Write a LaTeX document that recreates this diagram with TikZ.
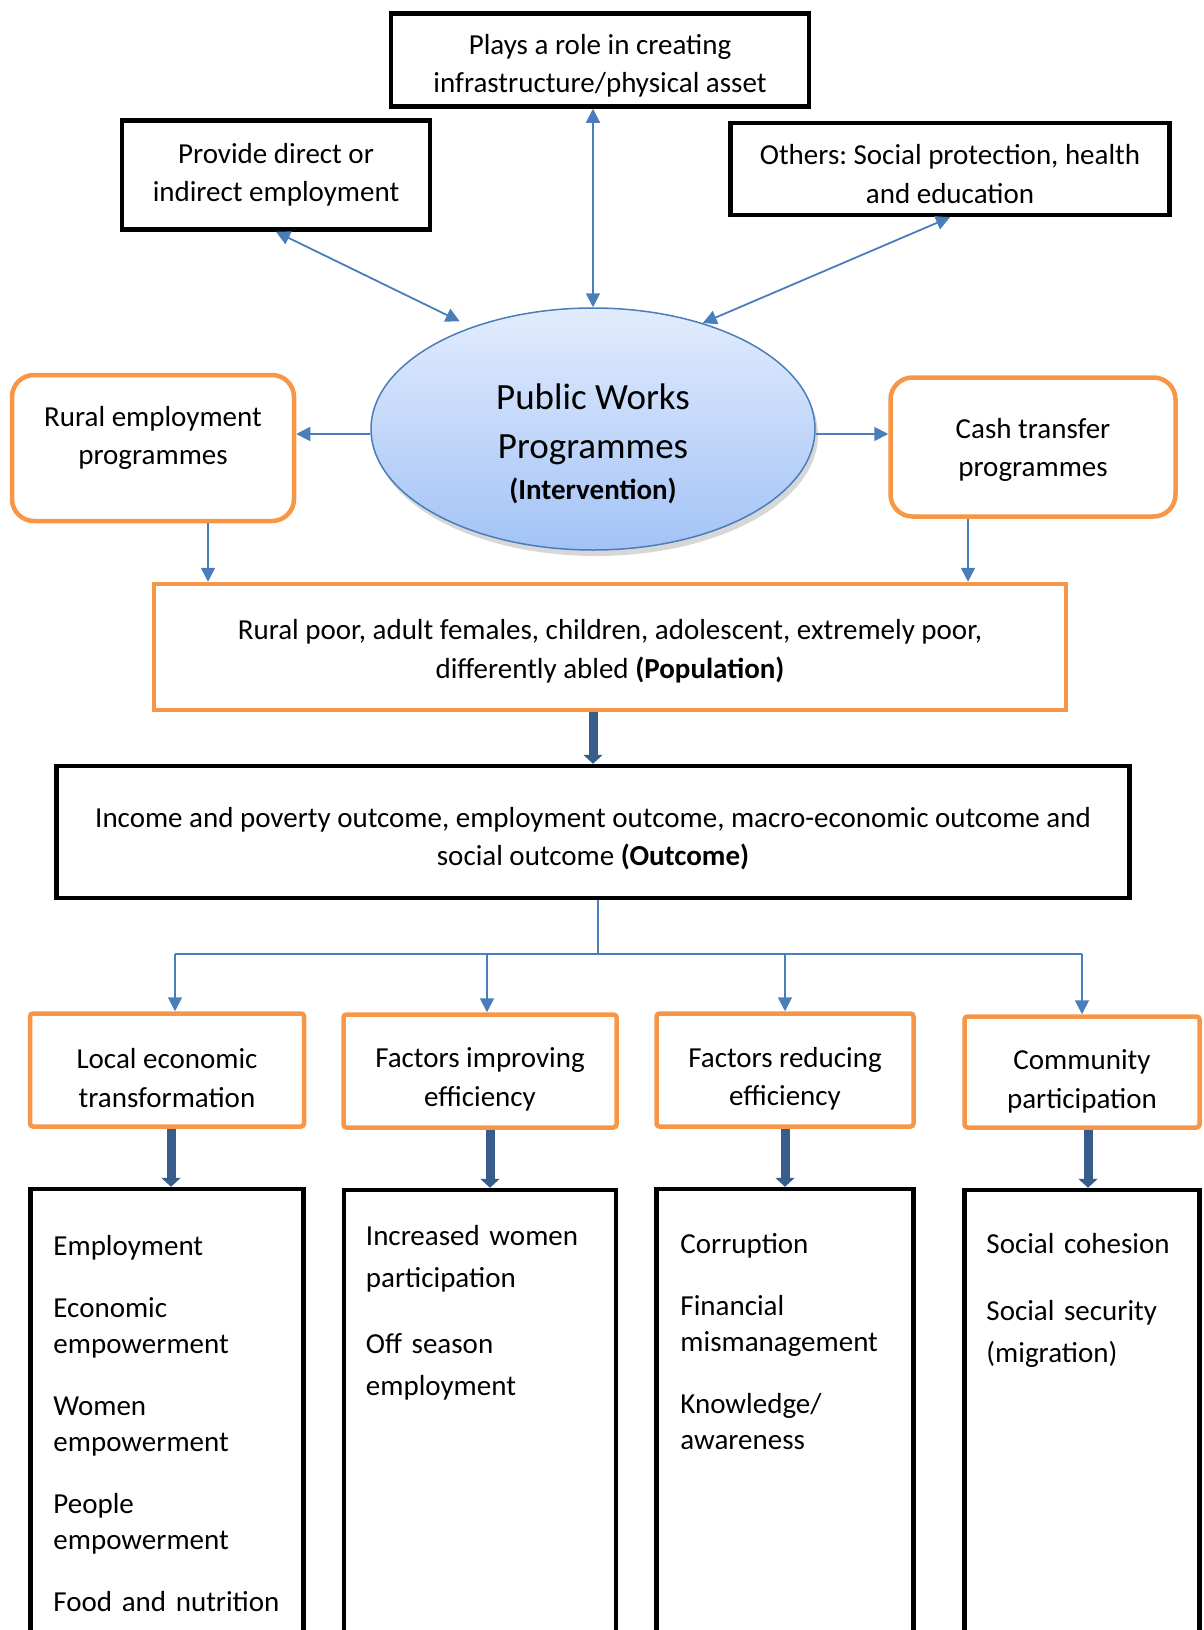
\documentclass[tikz,border=0pt]{standalone}
\usepackage{fontspec}
\setmainfont{Carlito}
\usetikzlibrary{arrows.meta,positioning,shapes.geometric,shadows}

\definecolor{boxorange}{HTML}{F79646}
\definecolor{linkblue}{HTML}{4A7EBB}
\definecolor{flowblue}{HTML}{385D8A}

% pad the first / last line of a box text
\newcommand{\padtop}[1]{\rule{0pt}{#1}}
\newcommand{\padbot}[1]{\rule[-#1]{0pt}{#1}}

\tikzset{
  blackbox/.style={draw=black,line width=4.5pt,align=center,inner sep=0pt},
  orangebox/.style={draw=boxorange,line width=4.5pt,align=center,inner sep=0pt},
  link/.style={draw=linkblue,line width=1.8pt},
  flow/.style={draw=flowblue,line width=9pt,-{Triangle[length=9pt,width=19pt]}},
  listtxt/.style={text width=240pt,align=left,inner sep=0pt,anchor=base west,
    font=\fontsize{29}{36}\selectfont},
}

\begin{document}
\frenchspacing
\begin{tikzpicture}[x=1pt,y=-1pt,>={Triangle[length=14pt,width=14pt]},
    font=\fontsize{29}{38.5}\selectfont]
  \useasboundingbox (0,0) rectangle (1203,1630);
  \clip (0,0) rectangle (1203,1630);

  % top row
  \node[blackbox,minimum width=418pt,minimum height=93pt] (role) at (600,60)
    {\padtop{32pt}Plays a role in creating\\infrastructure/physical asset};
  \node[blackbox,minimum width=308pt,minimum height=109pt] (direct) at (276,175)
    {Provide direct or\\indirect employment};
  \node[blackbox,minimum width=439pt,minimum height=92pt] (others) at (950,169)
    {\padtop{30pt}Others:\ Social protection, health\\and education};

  % intervention
  \node[ellipse,draw=linkblue,line width=1.5pt,minimum width=444pt,minimum height=242pt,
    top color={rgb,255:red,226;green,236;blue,253},bottom color={rgb,255:red,163;green,195;blue,246},
    drop shadow={shadow xshift=3pt,shadow yshift=-6pt,fill=black!35,opacity=.45}] (pwp) at (593,429) {};
  \node[align=center,font=\fontsize{37}{49}\selectfont] (pwptxt) at (593,444)
    {Public Works\\Programmes\\[-8pt]\fontsize{29}{35}\selectfont\bfseries (Intervention)};

  \node[orangebox,rounded corners=22pt,minimum width=282pt,minimum height=146pt] (rural) at (153,448)
    {Rural employment\\programmes\padbot{25pt}};
  \node[orangebox,rounded corners=22pt,minimum width=285pt,minimum height=139pt] (cash) at (1033,447)
    {\padtop{26pt}Cash transfer\\programmes};

  % population and outcome
  \node[orangebox,minimum width=912pt,minimum height=126pt] (pop) at (610,647)
    {\padtop{29pt}Rural poor, adult females, children, adolescent, extremely poor,\\differently abled \textbf{(Population)}};
  \node[blackbox,minimum width=1073pt,minimum height=132pt] (out) at (593,832)
    {\padtop{33pt}Income and poverty outcome, employment outcome, macro-economic outcome and\\social outcome \textbf{(Outcome)}};

  % factors
  \node[orangebox,rounded corners=3pt,minimum width=274pt,minimum height=113pt] (f1) at (167,1070)
    {\padtop{36pt}Local economic\\transformation};
  \node[orangebox,rounded corners=3pt,minimum width=273pt,minimum height=113pt] (f2) at (480,1071)
    {\padtop{37pt}Factors improving\\efficiency};
  \node[orangebox,rounded corners=3pt,minimum width=257pt,minimum height=113pt] (f3) at (785,1070)
    {\padtop{38pt}Factors reducing\\efficiency};
  \node[orangebox,rounded corners=3pt,minimum width=235pt,minimum height=111pt] (f4) at (1082,1072)
    {\padtop{39pt}Community\\participation};

  \node[blackbox,minimum width=273pt,minimum height=480pt,below=58pt of f1] (l1) {};
  \node[blackbox,minimum width=272pt,minimum height=480pt,below=58pt of f2] (l2) {};
  \node[blackbox,minimum width=257pt,minimum height=480pt,below=58pt of f3] (l3) {};
  \node[blackbox,minimum width=235pt,minimum height=480pt,below=58pt of f4] (l4) {};

  \node[listtxt] (t1) at ([shift={(25,69)}]l1.north west)
    {Employment\\[26pt]Economic\\empowerment\\[26pt]Women\\empowerment\\[26pt]People\\empowerment\\[26pt]Food and nutrition};
  \node[listtxt,font=\fontsize{29}{42}\selectfont] (t2) at ([shift={(24,58)}]l2.north west)
    {Increased women\\participation\\[24pt]Off season\\employment};
  \node[listtxt] (t3) at ([shift={(26,67)}]l3.north west)
    {Corruption\\[26pt]Financial\\mismanagement\\[26pt]Knowledge/\\awareness};
  \node[listtxt,font=\fontsize{29}{42}\selectfont] (t4) at ([shift={(24,66)}]l4.north west)
    {Social cohesion\\[25pt]Social security\\(migration)};

  % connectors
  \draw[link,<->] (role.south -| pwp.north) -- (pwp.north);
  \draw[link,<->,shorten >=13pt] (direct.south) -- (pwp.140);
  \draw[link,<->] (others.south) -- (pwp.44);
  \draw[link,->] ([yshift=-5pt]pwp.west) -- ([yshift=-5pt]pwp.west -| rural.east);
  \draw[link,->] ([yshift=-5pt]pwp.east) -- ([yshift=-5pt]pwp.east -| cash.west);
  \draw[link,->] ([xshift=55pt]rural.south) -- ([xshift=55pt]rural.south |- pop.north);
  \draw[link,->] ([xshift=-65pt]cash.south) -- ([xshift=-65pt]cash.south |- pop.north);
  \draw[flow] (pop.south -| out.north) -- (out.north);

  \coordinate (split) at ([xshift=5pt,yshift=-54pt]out.south);
  \draw[link] (split |- out.south) -- (split);
  \draw[link] ([xshift=8pt]split -| f1.north) -- (split -| f4.north);
  \foreach \f/\dx in {f1/8,f2/7,f3/0,f4/0}
    \draw[link,->] ([xshift=\dx pt]split -| \f.north) -- ([xshift=\dx pt]\f.north);
  \foreach \i/\dx in {1/4,2/10,3/0,4/6}
    \draw[flow] ([xshift=\dx pt]f\i.south) -- ([xshift=\dx pt]l\i.north);
\end{tikzpicture}
\end{document}
